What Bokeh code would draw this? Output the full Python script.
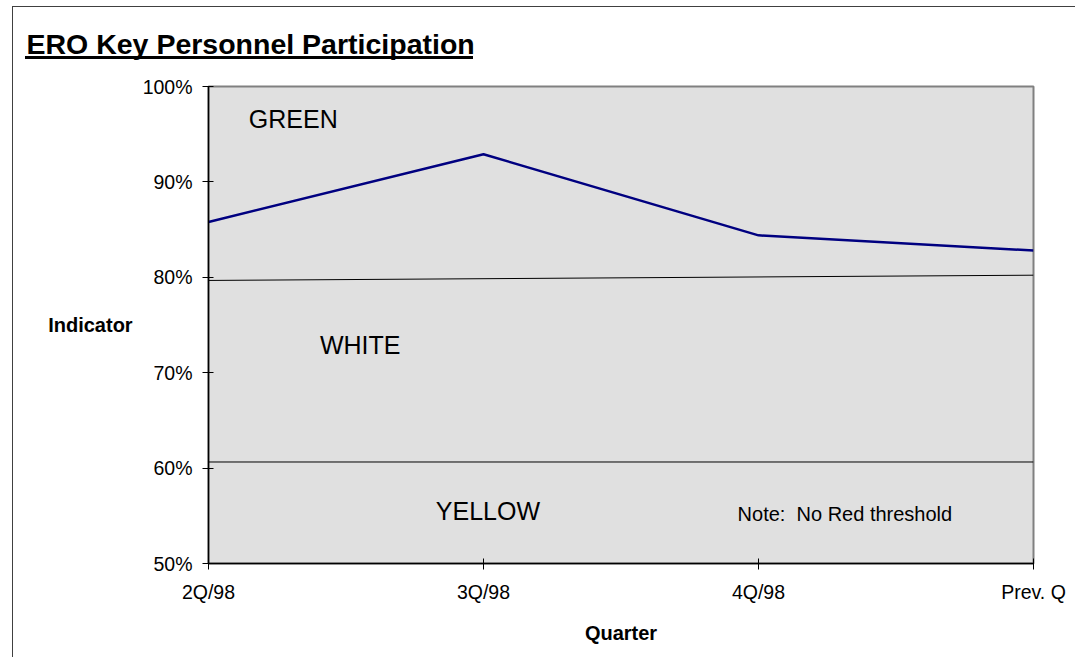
from bokeh.plotting import figure
from bokeh.models import (Range1d, FixedTicker, NumeralTickFormatter, Label,
                          InlineStyleSheet)
from bokeh.embed import file_html
from bokeh.resources import INLINE

# ---- data ----
title_text = "ERO Key Personnel Participation"
quarters = ["2Q/98", "3Q/98", "4Q/98", "Prev. Q"]
participation = [0.858, 0.929, 0.844, 0.828]
green_threshold = [0.7967, 0.8022]      # at first and last quarter
yellow_threshold = [0.6064, 0.6064]
y_ticks = [0.5, 0.6, 0.7, 0.8, 0.9, 1.0]
zone_labels = ["GREEN", "WHITE", "YELLOW"]
zone_label_x = [0.1465, 0.405, 0.8265]
zone_label_y = [0.9661, 0.7287, 0.5555]
note_text = "Note:\u00a0 No Red threshold"

FONT = "Liberation Sans"
W, H = 1075, 657

xs = list(range(len(quarters)))

p = figure(width=W, height=H, output_backend="svg", toolbar_location=None,
           x_range=Range1d(0, len(quarters) - 1), y_range=Range1d(0.5, 1.0),
           min_border_left=208, min_border_right=42, min_border_top=86,
           min_border_bottom=94)

p.background_fill_color = "#e0e0e0"
p.border_fill_color = "white"
p.outline_line_color = "#808080"
p.outline_line_width = 2
p.grid.visible = False

# outer frame line and title underline drawn as page decoration
p.stylesheets = [InlineStyleSheet(css="""
:host::after { content: ''; position: absolute; left: 12px; top: 6px;
  width: 1100px; height: 700px; border: 1px solid #404040;
  box-sizing: border-box; pointer-events: none; }
:host::before { content: ''; position: absolute; left: 25px; top: 56px;
  width: 448px; height: 3px; background: black; pointer-events: none;
  z-index: 5; }
""")]

# title
p.title.text = title_text
p.title.text_font = FONT
p.title.text_font_size = "28.5px"
p.title.text_font_style = "bold"
p.title.text_color = "black"
p.title.align = "left"
p.title.vertical_align = "top"
p.title.offset = -182
p.title.standoff = 50

# axes
xa = p.xaxis[0]
xa.ticker = FixedTicker(ticks=xs)
xa.major_label_overrides = {i: q for i, q in enumerate(quarters)}
xa.axis_label = "Quarter"
ya = p.yaxis[0]
ya.ticker = FixedTicker(ticks=y_ticks)
ya.formatter = NumeralTickFormatter(format="0%")
ya.axis_label = "Indicator"
ya.axis_label_orientation = "horizontal"

for ax in (xa, ya):
    ax.axis_line_color = "black"
    ax.axis_line_width = 1.5
    ax.major_tick_line_color = "black"
    ax.major_tick_in = 5
    ax.major_tick_out = 6
    ax.minor_tick_line_color = None
    ax.major_label_text_font = FONT
    ax.major_label_text_font_size = "19.5px"
    ax.major_label_text_color = "black"
    ax.axis_label_text_font = FONT
    ax.axis_label_text_font_size = "20px"
    ax.axis_label_text_font_style = "bold"
    ax.axis_label_text_color = "black"
xa.major_label_standoff = 11
xa.axis_label_standoff = 16
ya.major_label_standoff = 10
ya.axis_label_standoff = 7

# threshold lines
p.line([xs[0], xs[-1]], green_threshold, line_color="black", line_width=1)
p.line([xs[0], xs[-1]], yellow_threshold, line_color="black", line_width=1)

# data line
p.line(xs, participation, line_color="#000080", line_width=2.5)

# zone labels
for t, x, y in zip(zone_labels, zone_label_x, zone_label_y):
    p.add_layout(Label(x=x, y=y, text=t, text_font=FONT, text_font_size="25px",
                       text_color="black", text_baseline="alphabetic"))
p.add_layout(Label(x=1.924, y=0.5523, text=note_text, text_font=FONT,
                   text_font_size="20px", text_color="black",
                   text_baseline="alphabetic"))

open("out.html", "w").write(file_html(p, INLINE))
